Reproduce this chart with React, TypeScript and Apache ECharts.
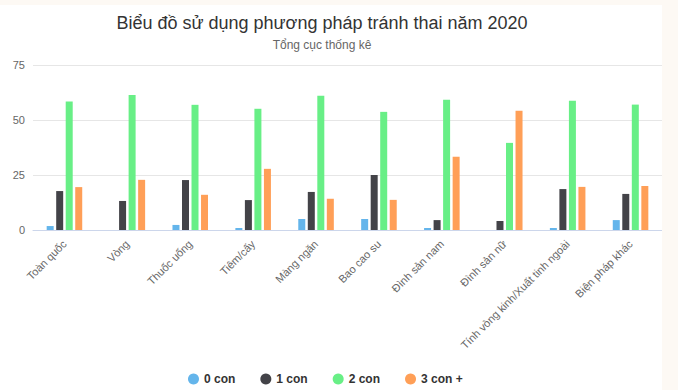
import React, { useEffect, useRef } from "react";
import * as echarts from "echarts";

const categories = [
  "Toàn quốc",
  "Vòng",
  "Thuốc uống",
  "Tiêm/cấy",
  "Màng ngăn",
  "Bao cao su",
  "Đình sản nam",
  "Đình sản nữ",
  "Tính vòng kinh/Xuất tinh ngoài",
  "Biện pháp khác",
];
const con0 = [1.8, 0, 2.3, 0.9, 5, 5, 0.9, 0, 0.9, 4.5];
const con1 = [17.7, 13.2, 22.7, 13.6, 17.3, 25, 4.5, 4.1, 18.6, 16.4];
const con2 = [58.4, 61.4, 56.9, 55.1, 61, 53.7, 59.2, 39.6, 58.8, 57];
const con3 = [19.5, 22.8, 16, 27.8, 14.2, 13.7, 33.3, 54.2, 19.6, 20];
const seriesNames = ["0 con", "1 con", "2 con", "3 con +"];
const colors = ["#64B5EB", "#434348", "#68EF86", "#FF9F57"];

export default function App() {
  const ref = useRef<HTMLDivElement>(null);
  useEffect(() => {
    if (!ref.current) return;
    const chart = echarts.init(ref.current, null, { renderer: "svg" });
    const data = [con0, con1, con2, con3];
    chart.setOption({
      animation: false,
      backgroundColor: "#ffffff",
      color: colors,
      textStyle: { fontFamily: "Liberation Sans, Arial, sans-serif" },
      graphic: [
        {
          type: "text",
          x: 322,
          y: 18,
          style: {
            text: "Biểu đồ sử dụng phương pháp tránh thai năm 2020",
            fill: "#333333",
            font: "18px 'Liberation Sans', Arial, sans-serif",
            textAlign: "center",
            textVerticalAlign: "middle",
          },
        },
        {
          type: "text",
          x: 322,
          y: 40,
          style: {
            text: "Tổng cục thống kê",
            fill: "#666666",
            font: "12px 'Liberation Sans', Arial, sans-serif",
            textAlign: "center",
            textVerticalAlign: "middle",
          },
        },
      ],
      legend: {
        left: 183,
        top: 363,
        icon: "circle",
        itemWidth: 11,
        itemHeight: 11,
        itemGap: 25,
        textStyle: {
          color: "#333333",
          fontWeight: "bold",
          fontSize: 12,
          fontFamily: "Liberation Sans, Arial, sans-serif",
        },
        data: seriesNames,
      },
      grid: { left: 33, right: 0, top: 60, bottom: 160, containLabel: false },
      xAxis: {
        type: "category",
        data: categories,
        axisLine: { lineStyle: { color: "#ccd6eb" } },
        axisTick: { show: false },
        axisLabel: {
          rotate: 45,
          interval: 0,
          color: "#666666",
          fontSize: 11,
          margin: 12,
        },
      },
      yAxis: {
        type: "value",
        min: 0,
        max: 75,
        interval: 25,
        axisLine: { show: false },
        axisTick: { show: false },
        axisLabel: { color: "#666666", fontSize: 11, margin: 8 },
        splitLine: { lineStyle: { color: "#e6e6e6" } },
      },
      series: seriesNames.map((name, i) => ({
        name,
        type: "bar",
        data: data[i],
        barWidth: 7,
        barGap: "36%",
        itemStyle: { color: colors[i] },
      })),
    });
    return () => chart.dispose();
  }, []);
  return (
    <div
      style={{
        position: "fixed",
        left: 0,
        top: 0,
        width: 678,
        height: 390,
        background: "#FDF9F4",
        overflow: "hidden",
      }}
    >
      <div
        ref={ref}
        style={{ position: "absolute", left: 0, top: 5, width: 662, height: 385 }}
      />
    </div>
  );
}
